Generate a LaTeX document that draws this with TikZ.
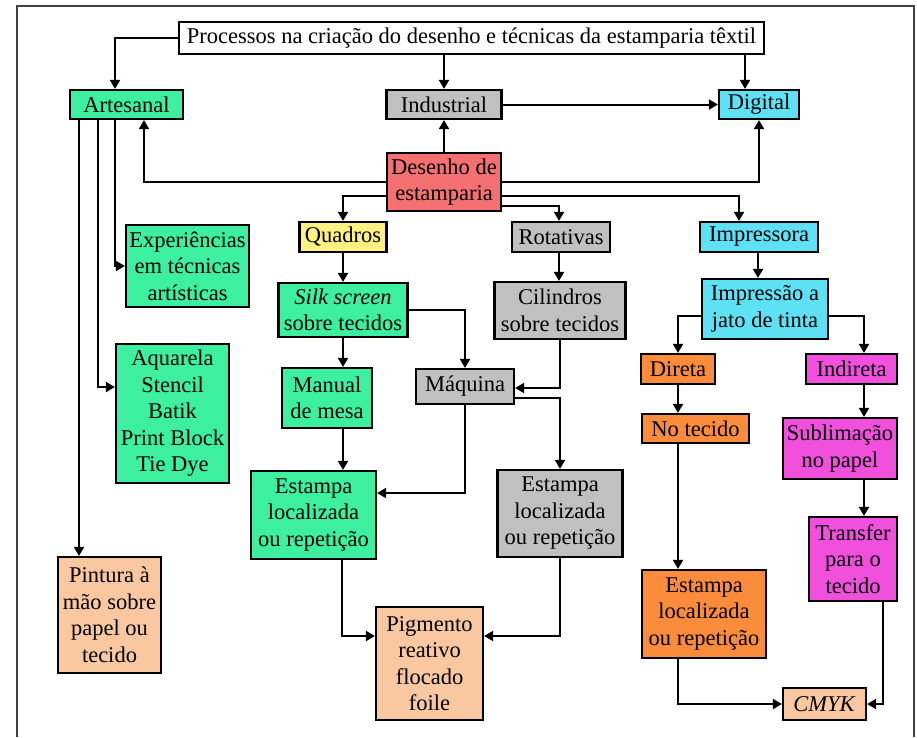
\documentclass[tikz,border=0pt]{standalone}
\usepackage{fontspec}
\setmainfont{Liberation Serif}
\usetikzlibrary{arrows.meta}
\definecolor{verde}{RGB}{60,240,160}
\definecolor{cinza}{RGB}{192,192,192}
\definecolor{vermelho}{RGB}{245,112,112}
\definecolor{amarelo}{RGB}{255,240,130}
\definecolor{ciano}{RGB}{95,225,245}
\definecolor{laranja}{RGB}{250,140,60}
\definecolor{magenta2}{RGB}{240,80,220}
\definecolor{pessego}{RGB}{250,200,160}

\begin{document}
\begin{tikzpicture}[x=1pt, y=-1pt,
    caixa/.style={draw=black, line width=2.2pt, inner sep=0pt, align=center, font=\fontsize{22.5}{26.5}\selectfont},
    seta/.style={-{Triangle[width=10pt,length=9pt]}, line width=2pt}]
    \useasboundingbox (0,0) rectangle (917,737);
    \draw[line width=1.6pt, black!75] (17,737) -- (17,6) -- (914,6) -- (914,737);

    % topo
    \node[caixa, fill=white, minimum width=585pt, minimum height=32pt] (titulo) at (471.5,38) {Processos na criação do desenho e técnicas da estamparia têxtil};
    \node[caixa, fill=verde, minimum width=113pt, minimum height=29pt] (art) at (126.5,104.5) {Artesanal};
    \node[caixa, fill=cinza, minimum width=115pt, minimum height=29pt] (ind) at (444,104.5) {Industrial};
    \node[caixa, fill=ciano, minimum width=80pt, minimum height=29pt] (dig) at (759,104.5) {Digital};
    \node[caixa, fill=vermelho, minimum width=114pt, minimum height=58pt] (des) at (444,182) {Desenho de\\estamparia};

    % artesanal
    \node[caixa, fill=verde, minimum width=123pt, minimum height=82pt] (exp) at (187.5,266) {Experiências\\em técnicas\\artísticas};
    \node[caixa, fill=verde, minimum width=113pt, minimum height=139pt] (aqu) at (172.5,413.5) {Aquarela\\Stencil\\Batik\\Print Block\\Tie Dye};
    \node[caixa, fill=pessego, minimum width=103pt, minimum height=116pt] (pin) at (109.5,615) {Pintura à\\mão sobre\\papel ou\\tecido};

    % quadros e rotativas
    \node[caixa, fill=amarelo, minimum width=87pt, minimum height=30pt] (qua) at (343,237) {Quadros};
    \node[caixa, fill=cinza, minimum width=98pt, minimum height=30pt] (rot) at (561,237) {Rotativas};
    \node[caixa, fill=verde, minimum width=129pt, minimum height=54pt] (silk) at (343,310) {\textit{Silk screen}\\sobre tecidos};
    \node[caixa, fill=cinza, minimum width=131pt, minimum height=57pt] (cil) at (560,310.5) {Cilindros\\sobre tecidos};
    \node[caixa, fill=verde, minimum width=90pt, minimum height=60pt] (man) at (327,398) {Manual\\de mesa};
    \node[caixa, fill=cinza, minimum width=98pt, minimum height=35pt] (maq) at (465,386.5) {Máquina};
    \node[caixa, fill=verde, minimum width=125pt, minimum height=88pt] (estv) at (313.5,515) {Estampa\\localizada\\ou repetição};
    \node[caixa, fill=cinza, minimum width=125pt, minimum height=87pt] (estc) at (560,513.5) {Estampa\\localizada\\ou repetição};
    \node[caixa, fill=pessego, minimum width=107pt, minimum height=113pt] (pig) at (429.5,663.5) {Pigmento\\reativo\\flocado\\foile};

    % digital
    \node[caixa, fill=ciano, minimum width=118pt, minimum height=30pt] (imp) at (759,237) {Impressora};
    \node[caixa, fill=ciano, minimum width=126pt, minimum height=60pt] (jat) at (765,309) {Impressão a\\jato de tinta};
    \node[caixa, fill=laranja, minimum width=74pt, minimum height=30pt] (dir) at (678,369) {Direta};
    \node[caixa, fill=magenta2, minimum width=91pt, minimum height=30pt] (indr) at (851.5,369) {Indireta};
    \node[caixa, fill=laranja, minimum width=107pt, minimum height=29pt] (notec) at (695.5,428.5) {No tecido};
    \node[caixa, fill=magenta2, minimum width=114pt, minimum height=61pt] (sub) at (840,448.5) {Sublimação\\no papel};
    \node[caixa, fill=magenta2, minimum width=88pt, minimum height=84pt] (tra) at (853,559) {Transfer\\para o\\tecido};
    \node[caixa, fill=laranja, minimum width=124pt, minimum height=88pt] (esto) at (704,614) {Estampa\\localizada\\ou repetição};
    \node[caixa, fill=pessego, minimum width=83pt, minimum height=32pt] (cmyk) at (824.5,704) {\textit{CMYK}};

    % ligações do topo
    \draw[seta] (titulo.west) -| ([xshift=-11.5pt]art.north);
    \draw[seta] (titulo.south -| ind) -- (ind);
    \draw[seta] ([xshift=-14pt]dig.north |- titulo.south) -- ([xshift=-14pt]dig.north);
    \draw[seta] (ind) -- (dig);
    \draw[seta] (des) -- (ind);
    \draw[seta] (des.west) -| ([xshift=17.5pt]art.south);
    \draw[seta] (des.east) -| (dig.south);
    \draw[seta] ([yshift=-14pt]des.west) -| (qua.north);
    \draw[seta] ([yshift=-24pt]des.east) -| ([xshift=-2pt]rot.north);
    \draw[seta] ([yshift=-14pt]des.east) -| ([xshift=-20pt]imp.north);

    % ligações artesanal
    \draw[seta] ([xshift=-11.5pt]art.south) |- (exp.west);
    \draw[seta] ([xshift=-28.5pt]art.south) |- ([yshift=26.5pt]aqu.west);
    \draw[seta] ([xshift=-47.5pt]art.south) -- ([xshift=-47.5pt]art.south |- pin.north);

    % ligações industrial
    \draw[seta] (qua) -- (silk);
    \draw[seta] (silk) -- (silk.south |- man.north);
    \draw[seta] (silk.east) -| (maq.north);
    \draw[seta] ([xshift=-2pt]rot.south) -- ([xshift=-2pt]rot.south |- cil.north);
    \draw[seta] (cil.south) |- ([yshift=-1.5pt]maq.east);
    \draw[seta] ([yshift=-11.5pt]maq.east) -| (estc.north);
    \draw[seta] (maq.south) |- ([yshift=22pt]estv.east);
    \draw[seta] ([xshift=16pt]man.south) -- ([xshift=16pt]man.south |- estv.north);
    \draw[seta] ([xshift=28.5pt]estv.south) |- ([yshift=27.5pt]pig.west);
    \draw[seta] (estc.south) |- ([yshift=27.5pt]pig.east);

    % ligações digital
    \draw[seta] ([xshift=-1pt]imp.south) -- ([xshift=-1pt]imp.south |- jat.north);
    \draw[seta] ([yshift=-7pt]jat.west) -| (dir.north);
    \draw[seta] ([yshift=-7pt]jat.east) -| ([xshift=12.5pt]indr.north);
    \draw[seta] (dir) -- (dir.south |- notec.north);
    \draw[seta] (dir.south |- notec.south) -- (dir.south |- esto.north);
    \draw[seta] ([xshift=12.5pt]indr.south) -- ([xshift=12.5pt]indr.south |- sub.north);
    \draw[seta] ([xshift=12.5pt]indr.south |- sub.south) -- ([xshift=12.5pt]indr.south |- tra.north);
    \draw[seta] ([xshift=30pt]tra.south) |- (cmyk.east);
    \draw[seta] (dir.south |- esto.south) |- (cmyk.west);
\end{tikzpicture}
\end{document}
